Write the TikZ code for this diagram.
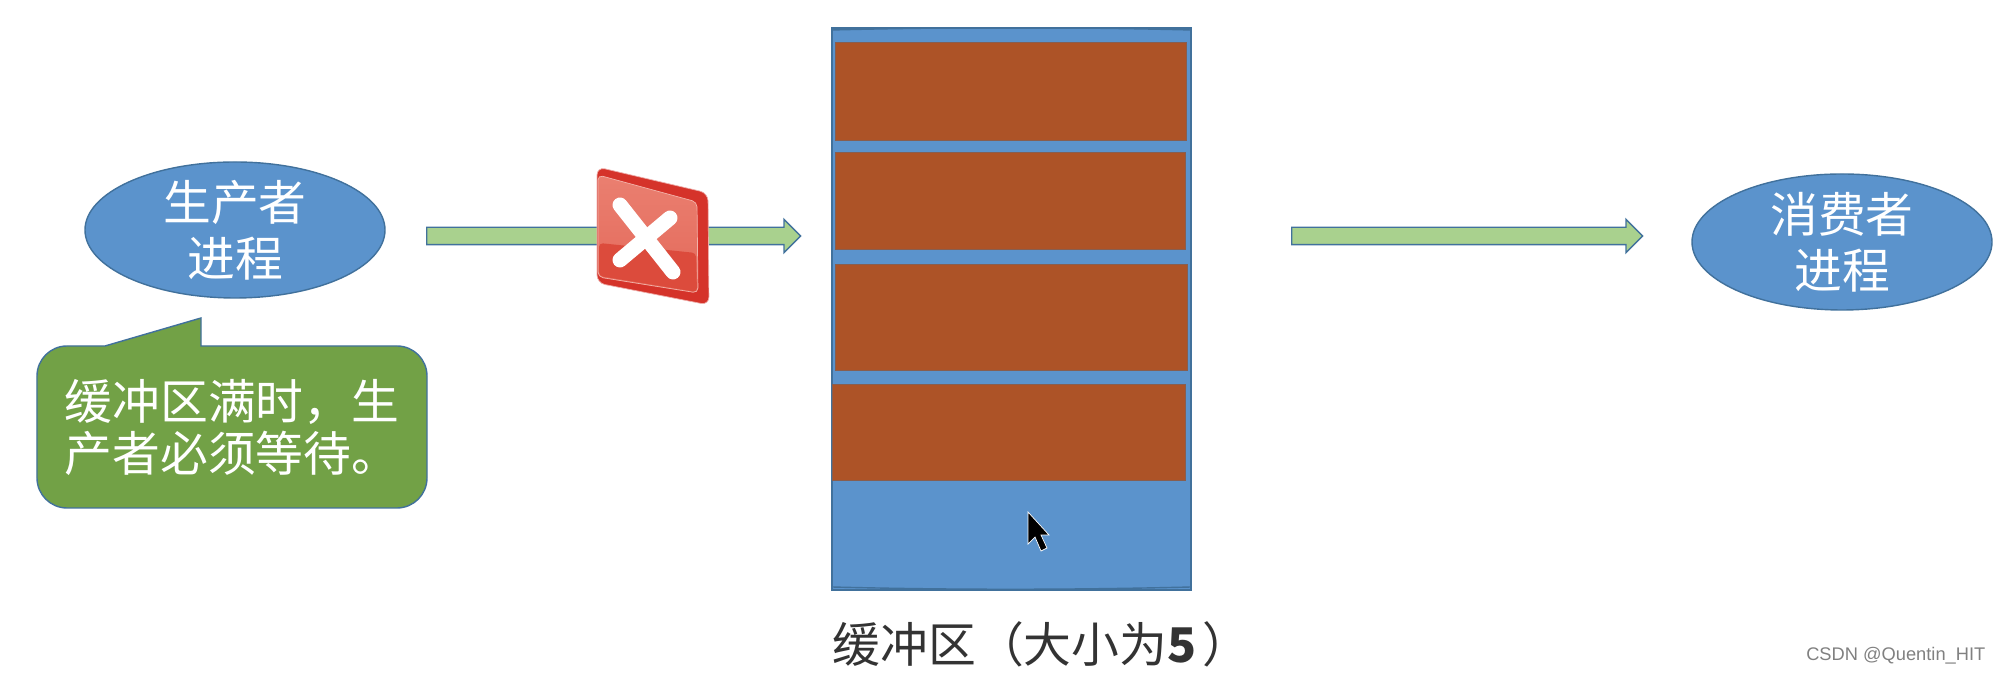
\documentclass[tikz,border=0pt]{standalone}
\usepackage{fontspec}
\setmainfont{Noto Sans CJK SC}
\newfontfamily\markfont{Liberation Sans}
\usepackage{xcolor}
\usetikzlibrary{shapes.geometric, shapes.arrows}
\definecolor{bufblue}{HTML}{5B93CC}
\definecolor{edgeblue}{HTML}{41719C}
\definecolor{slotbrown}{HTML}{AD5327}
\definecolor{notegreen}{HTML}{72A146}
\definecolor{arrowgreen}{HTML}{A9D18E}
\definecolor{iconrim}{HTML}{D5332A}
\definecolor{icontop}{HTML}{EA7F70}
\definecolor{iconmid}{HTML}{E4695A}
\definecolor{iconlow}{HTML}{DC4B3C}
\tikzstyle{process} = [ellipse, draw=edgeblue, fill=bufblue, text=white, minimum width=3cm, minimum height=1.36cm, inner xsep=0pt, inner ysep=-0.02cm, align=center, font=\fontsize{13.6}{15.9}\selectfont]
\tikzstyle{slot} = [draw=slotbrown!65!edgeblue, fill=slotbrown, very thin]
\tikzstyle{flow} = [single arrow, draw=edgeblue, fill=arrowgreen, anchor=tail, inner xsep=0pt, inner ysep=0.08cm, single arrow head extend=0.08cm, single arrow head indent=0cm]

\begin{document}
\begin{tikzpicture}
			\useasboundingbox (0,0) rectangle (20,6.73);
			\draw [draw=edgeblue, fill=bufblue] (8.32,6.45) rectangle (11.91,0.83);
			\draw [edgeblue] (8.32,0.86) .. controls (9.5,0.83) and (10.7,0.83) .. (11.91,0.86);
			\draw [edgeblue] (8.32,6.43) .. controls (9.5,6.46) and (10.7,6.46) .. (11.91,6.43);
			\draw [slot] (8.35,6.31) rectangle (11.86,5.33);
			\draw [slot] (8.35,5.21) rectangle (11.85,4.24);
			\draw [slot] (8.35,4.09) rectangle (11.87,3.03);
			\draw [slot] (8.32,2.89) rectangle (11.85,1.93);
			\node (producer) [process] at (2.35,4.43) {生产者\\进程};
			\node (consumer) [process] at (18.42,4.31) {消费者\\进程};
			\node (arrowin) [flow, minimum height=3.74cm] at (4.26,4.37) {};
			\node (arrowout) [flow, minimum height=3.51cm] at (12.91,4.37) {};
			\draw [draw=edgeblue, fill=notegreen, rounded corners=0.3cm] (1.05,3.27) [sharp corners] -- (2.01,3.55) -- (2.01,3.27) [rounded corners=0.3cm] -- (4.27,3.27) -- (4.27,1.65) -- (0.37,1.65) -- (0.37,3.27) [sharp corners] -- cycle;
			\node (note) [text=white, align=left, font=\fontsize{13.6}{14.8}\selectfont] at (2.32,2.45) {缓冲区满时，生\\产者必须等待。};
			\draw [fill=iconrim, draw=iconrim!40, very thin, rounded corners=0.08cm] (5.97,5.06) -- (7.08,4.80) -- (7.09,3.68) -- (5.97,3.90) -- cycle;
			\draw [top color=icontop, bottom color=iconmid, draw=icontop!60!white, very thin, rounded corners=0.05cm] (5.98,4.98) -- (6.97,4.71) -- (6.98,3.80) -- (5.98,3.96) -- cycle;
			\fill [iconlow, rounded corners=0.04cm] (5.99,4.30) -- (6.96,4.20) -- (6.97,3.81) -- (5.99,3.97) -- cycle;
			\draw [white, line width=0.15cm, line cap=round] (6.20,4.68) -- (6.73,4.01);
			\draw [white, line width=0.15cm, line cap=round] (6.70,4.55) -- (6.20,4.13);
			\draw [fill=black, draw=white, very thin] (10.28,1.61) -- (10.28,1.29) -- (10.35,1.36) -- (10.41,1.22) -- (10.47,1.25) -- (10.41,1.38) -- (10.49,1.38) -- cycle;
			\node (caption) [anchor=west, inner sep=0pt, text=black!80, font=\fontsize{13.6}{15}\selectfont] at (8.32,0.29) {缓冲区（大小为\textbf{5}\hspace{0.06cm}）};
			\node (mark) [anchor=east, inner sep=0pt, text=black!50, font=\markfont\fontsize{5.2}{6}\selectfont] at (19.86,0.17) {CSDN @Quentin\_HIT};
		\end{tikzpicture}
\end{document}
